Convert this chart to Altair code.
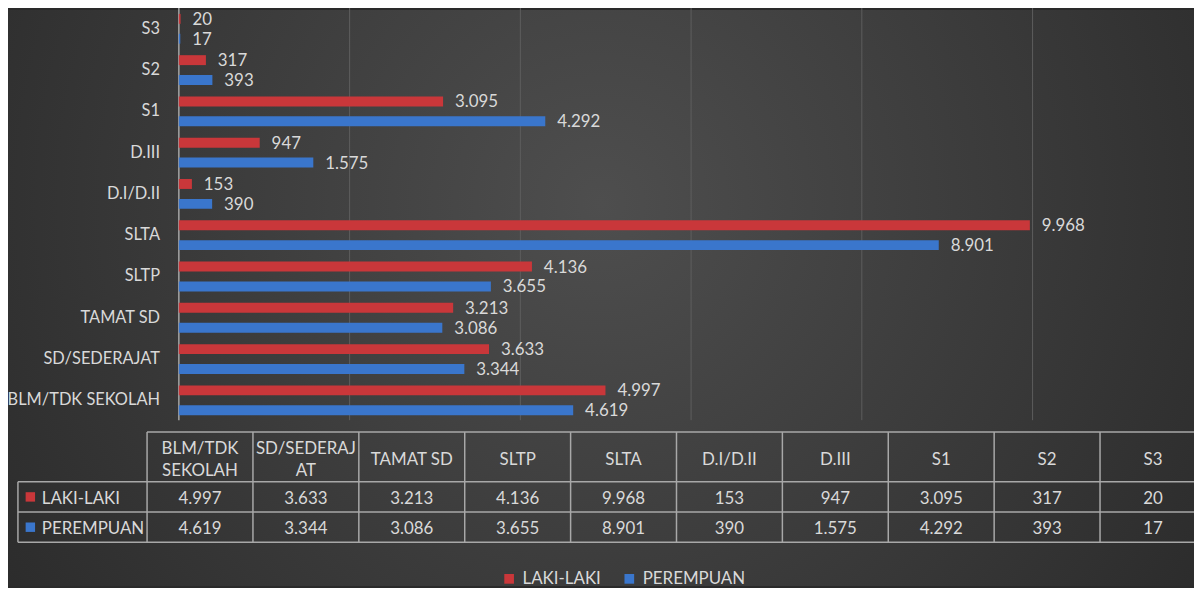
import altair as alt
import pandas as pd

# ---------------- data ----------------
categories = ["S3", "S2", "S1", "D.III", "D.I/D.II", "SLTA", "SLTP",
              "TAMAT SD", "SD/SEDERAJAT", "BLM/TDK SEKOLAH"]
laki_laki = [20, 317, 3095, 947, 153, 9968, 4136, 3213, 3633, 4997]
perempuan = [17, 393, 4292, 1575, 390, 8901, 3655, 3086, 3344, 4619]
series = ["LAKI-LAKI", "PEREMPUAN"]
series_colors = ["#c9373a", "#3a76cc"]
table_order = ["BLM/TDK SEKOLAH", "SD/SEDERAJAT", "TAMAT SD", "SLTP", "SLTA",
               "D.I/D.II", "D.III", "S1", "S2", "S3"]
table_headers = ["BLM/TDK\nSEKOLAH", "SD/SEDERAJ\nAT", "TAMAT SD", "SLTP", "SLTA",
                 "D.I/D.II", "D.III", "S1", "S2", "S3"]
grid_ticks = [2000, 4000, 6000, 8000, 10000]


def fmt(v):
    return f"{v:,}".replace(",", ".")


rows = []
for s, vals in zip(series, [laki_laki, perempuan]):
    for c, v in zip(categories, vals):
        rows.append({"cat": c, "series": s, "value": v, "label": fmt(v)})
df = pd.DataFrame(rows)
cat_df = pd.DataFrame({"cat": categories})
head_df = pd.DataFrame({"cat": table_order, "header": table_headers})
series_df = pd.DataFrame({"series": series})
grid_df = pd.DataFrame({"tick": grid_ticks})
zero_df = pd.DataFrame({"tick": [0]})
one_df = pd.DataFrame({"k": [0]})

# ---------------- style ----------------
W, H = 1194, 580
FONT = "Lato"
TXT = "#d9d9d9"
BORDER = "#a8a8a8"

x_scale = alt.Scale(domain=[0, 12000], range=[172, 172 + 0.08595 * 12000], nice=False)
y_scale = alt.Scale(domain=categories, range=[-1.8, 413.8], paddingInner=0, paddingOuter=0)
yoff_scale = alt.Scale(domain=series, paddingInner=0.5, paddingOuter=0.289)
color_scale = alt.Scale(domain=series, range=series_colors)

# ---------------- background ----------------
bg = alt.Chart(one_df).mark_rect(
    color={"gradient": "radial", "x1": 0.5, "y1": 0.42, "r1": 0,
           "x2": 0.5, "y2": 0.42, "r2": 0.72,
           "stops": [{"offset": 0, "color": "#4e4e4e"},
                     {"offset": 1, "color": "#252525"}]}
).encode(x=alt.value(0), x2=alt.value(W), y=alt.value(0), y2=alt.value(H))

# ---------------- bar part ----------------
grid = alt.Chart(grid_df).mark_rule(color="#5e5e5e", strokeWidth=1).encode(
    x=alt.X("tick:Q", scale=x_scale, axis=None),
    y=alt.value(-3), y2=alt.value(413))
axis_line = alt.Chart(zero_df).mark_rule(color="#a5a5a5", strokeWidth=1.5).encode(
    x=alt.X("tick:Q", scale=x_scale, axis=None),
    y=alt.value(-3), y2=alt.value(413))

bars = alt.Chart(df).mark_bar().encode(
    x=alt.X("value:Q", scale=x_scale, axis=None),
    y=alt.Y("cat:N", scale=y_scale, axis=None, sort=None),
    yOffset=alt.YOffset("series:N", scale=yoff_scale, sort=None),
    color=alt.Color("series:N", scale=color_scale,
                    legend=alt.Legend(orient="none", legendX=496, legendY=564,
                                      direction="horizontal", title=None,
                                      symbolType="square", symbolSize=95,
                                      symbolStrokeWidth=0, symbolOpacity=1,
                                      labelFont=FONT, labelFontSize=17,
                                      labelColor=TXT, labelOffset=5,
                                      columnPadding=20, padding=0)),
)
values = alt.Chart(df).mark_text(align="left", baseline="middle", dx=12, dy=1,
                                 font=FONT, fontSize=17, color=TXT).encode(
    x=alt.X("value:Q", scale=x_scale, axis=None),
    y=alt.Y("cat:N", scale=y_scale, axis=None, sort=None),
    yOffset=alt.YOffset("series:N", scale=yoff_scale, sort=None),
    text="label:N")
cat_labels = alt.Chart(cat_df).mark_text(align="right", baseline="middle", dx=-19,
                                         font=FONT, fontSize=16.5, color=TXT).encode(
    x=alt.X(datum=0, scale=x_scale, axis=None),
    y=alt.Y("cat:N", scale=y_scale, axis=None, sort=None),
    text="cat:N")

bar_part = alt.layer(grid, axis_line, bars, values, cat_labels)

# ---------------- table part ----------------
tx_scale = alt.Scale(domain=table_order, range=[140, 1206], paddingInner=0, paddingOuter=0)
ty_scale = alt.Scale(domain=series, range=[475, 536], paddingInner=0, paddingOuter=0)

header_single = alt.Chart(head_df).transform_filter(
    "indexof(datum.header, '\\n') < 0"
).mark_text(align="center", baseline="middle",
            font=FONT, fontSize=17, color=TXT).encode(
    x=alt.X("cat:N", scale=tx_scale, axis=None, sort=None),
    y=alt.value(453), text="header:N")
header_double = alt.Chart(head_df).transform_filter(
    "indexof(datum.header, '\\n') >= 0"
).mark_text(align="center", baseline="middle", lineBreak="\n", lineHeight=22,
            font=FONT, fontSize=17, color=TXT).encode(
    x=alt.X("cat:N", scale=tx_scale, axis=None, sort=None),
    y=alt.value(442), text="header:N")
cells = alt.Chart(df).mark_text(align="center", baseline="middle", dy=2,
                                font=FONT, fontSize=17, color=TXT).encode(
    x=alt.X("cat:N", scale=tx_scale, axis=None, sort=None),
    y=alt.Y("series:N", scale=ty_scale, axis=None, sort=None),
    text="label:N")
row_sq = alt.Chart(series_df).mark_square(size=90, opacity=1).encode(
    x=alt.value(22.5),
    y=alt.Y("series:N", scale=ty_scale, axis=None, sort=None),
    color=alt.Color("series:N", scale=color_scale, legend=None))
row_txt = alt.Chart(series_df).mark_text(align="left", baseline="middle", dy=2,
                                         font=FONT, fontSize=17, color=TXT).encode(
    x=alt.value(34),
    y=alt.Y("series:N", scale=ty_scale, axis=None, sort=None),
    text="series:N")

vlines = alt.Chart(head_df).mark_rule(color=BORDER, strokeWidth=1.5).encode(
    x=alt.X("cat:N", scale=tx_scale, axis=None, sort=None, bandPosition=0),
    y=alt.value(425), y2=alt.value(536))
vline_end = alt.Chart(head_df).transform_filter(alt.datum.cat == "S3").mark_rule(
    color=BORDER, strokeWidth=1.5).encode(
    x=alt.X("cat:N", scale=tx_scale, axis=None, sort=None, bandPosition=1),
    y=alt.value(425), y2=alt.value(536))
vline_left = alt.Chart(one_df).mark_rule(color=BORDER, strokeWidth=1.5).encode(
    x=alt.value(10), y=alt.value(475), y2=alt.value(536))
top_line = alt.Chart(one_df).mark_rule(color=BORDER, strokeWidth=1.5).encode(
    x=alt.value(140), x2=alt.value(1206), y=alt.value(425))
hlines = alt.Chart(series_df).mark_rule(color=BORDER, strokeWidth=1.5).encode(
    x=alt.value(10), x2=alt.value(1206),
    y=alt.Y("series:N", scale=ty_scale, axis=None, sort=None, bandPosition=0))
hline_end = alt.Chart(series_df).transform_filter(alt.datum.series == "PEREMPUAN").mark_rule(
    color=BORDER, strokeWidth=1.5).encode(
    x=alt.value(10), x2=alt.value(1206),
    y=alt.Y("series:N", scale=ty_scale, axis=None, sort=None, bandPosition=1))

table_part = alt.layer(vlines, vline_end, vline_left, top_line, hlines, hline_end,
                       header_single, header_double, cells, row_sq, row_txt)

chart = alt.layer(bg, bar_part, table_part).resolve_scale(
    x="independent", y="independent"
).properties(
    width=W, height=H, padding=0, background="#2a2a2a",
    autosize=alt.AutoSizeParams(type="none"),
).configure_view(stroke=None)

chart.save("out.html", embed_options={"renderer": "svg", "actions": False})
